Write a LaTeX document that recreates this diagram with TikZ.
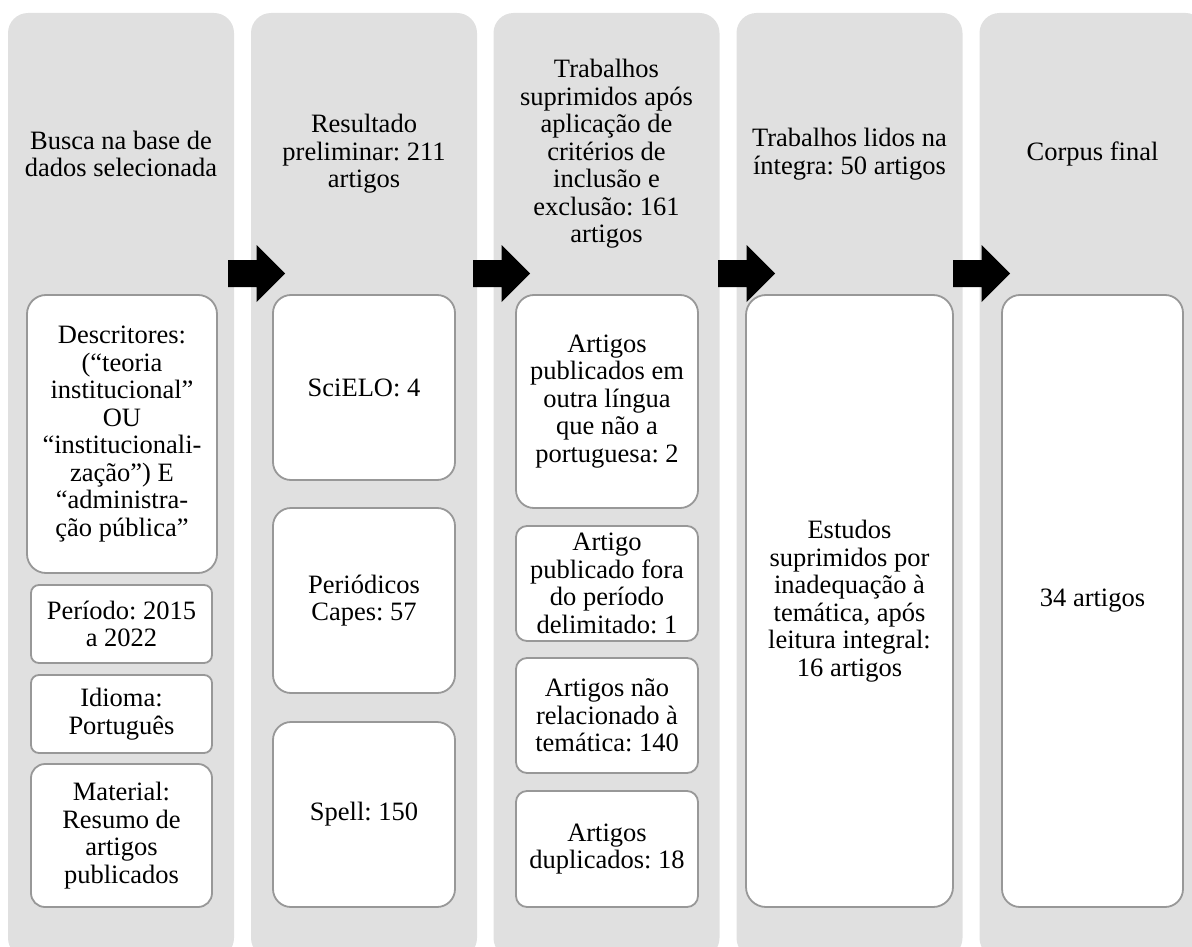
\documentclass[tikz,border=0pt]{standalone}
\usepackage{fontspec}
\setmainfont{Liberation Serif}
\definecolor{colfill}{RGB}{224,224,224}
\definecolor{bordergray}{RGB}{152,152,152}
\newcommand{\mainfs}{\fontsize{26.5}{27.5}\selectfont}
\frenchspacing
\begin{document}
\begin{tikzpicture}[x=1pt,y=-1pt,
  colbox/.style={fill=colfill, rounded corners=20pt, minimum width=226pt, minimum height=945pt, inner sep=0pt},
  ibox/.style={draw=bordergray, line width=1.8pt, fill=white, align=center, inner sep=0pt, font=\mainfs},
  hdr/.style={align=center, inner sep=0pt, font=\mainfs},
  blockarrow/.style={fill=black}]
\useasboundingbox (0,0) rectangle (1192,947);
\clip (0,0) rectangle (1192,947);
% columns
\node[colbox] (c1) at (121,485.5) {};
\node[colbox] (c2) at (364,485.5) {};
\node[colbox] (c3) at (606.5,485.5) {};
\node[colbox] (c4) at (849.5,485.5) {};
\node[colbox] (c5) at (1092.5,485.5) {};
% headers
\node[hdr] (h1) at (121,154) {Busca na base de\\dados selecionada};
\node[hdr] (h2) at (364,154) {Resultado\\preliminar: 211\\artigos};
\node[hdr] (h3) at (606.5,154) {Trabalhos\\suprimidos após\\aplicação de\\critérios de\\inclusão e\\exclusão: 161\\artigos};
\node[hdr] (h4) at (849.5,154) {Trabalhos lidos na\\íntegra: 50 artigos};
\node[hdr] (h5) at (1092.5,154) {Corpus final};
% column 1 boxes
\node[ibox, minimum width=190pt, minimum height=278pt, rounded corners=19pt] (d1) at (122,434) {Descritores:\\(“teoria\\institucional”\\OU\\“institucionali-\\zação”) E\\“administra-\\ção pública”};
\node[ibox, minimum width=181pt, minimum height=78pt, rounded corners=8pt] (d2) at (121.5,624) {Período: 2015\\a 2022};
\node[ibox, minimum width=181pt, minimum height=78pt, rounded corners=8pt] (d3) at (121.5,714) {Idioma:\\Português};
\node[ibox, minimum width=181pt, minimum height=143pt, rounded corners=14pt] (d4) at (121.5,835.5) {Material:\\Resumo de\\artigos\\publicados};
% column 2 boxes
\node[ibox, minimum width=182pt, minimum height=185pt, rounded corners=18pt] (e1) at (364,387.5) {SciELO: 4};
\node[ibox, minimum width=182pt, minimum height=185pt, rounded corners=18pt] (e2) at (364,600.5) {Periódicos\\Capes: 57};
\node[ibox, minimum width=182pt, minimum height=185pt, rounded corners=18pt] (e3) at (364,814.5) {Spell: 150};
% column 3 boxes
\node[ibox, minimum width=182pt, minimum height=213pt, rounded corners=18pt] (f1) at (607,401.5) {Artigos\\publicados em\\outra língua\\que não a\\portuguesa: 2};
\node[ibox, minimum width=182pt, minimum height=115pt, rounded corners=11pt] (f2) at (607,583.5) {Artigo\\publicado fora\\do período\\delimitado: 1};
\node[ibox, minimum width=182pt, minimum height=115pt, rounded corners=11pt] (f3) at (607,715.5) {Artigos não\\relacionado à\\temática: 140};
\node[ibox, minimum width=182pt, minimum height=116pt, rounded corners=11pt] (f4) at (607,849) {Artigos\\duplicados: 18};
% column 4 box
\node[ibox, minimum width=207pt, minimum height=612pt, rounded corners=20pt] (g1) at (849.5,601) {Estudos\\suprimidos por\\inadequação à\\temática, após\\leitura integral:\\16 artigos};
% column 5 box
\node[ibox, minimum width=181pt, minimum height=612pt, rounded corners=18pt] (k1) at (1092.5,601) {34 artigos};
% block arrows
\foreach \s/\n in {228/1,473/2,718/3,953/4}{
  \coordinate (a\n) at (\s,273.5);
  \fill[blockarrow] (a\n) ++(0,-13.5) -- ++(28.5,0) -- ++(0,-15) -- ++(28.5,28.5) -- ++(-28.5,28.5) -- ++(0,-15) -- ++(-28.5,0) -- cycle;
}
\end{tikzpicture}
\end{document}
